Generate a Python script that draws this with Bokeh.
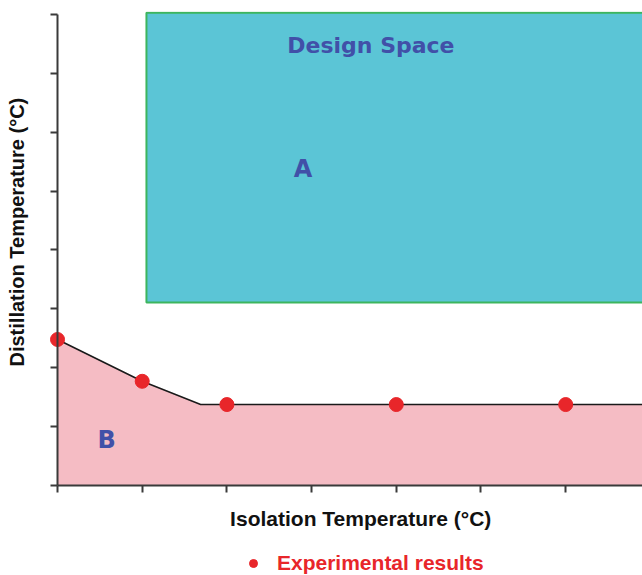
from bokeh.embed import file_html
from bokeh.models import FixedTicker, Label, Legend, LegendItem, Range1d, Title
from bokeh.plotting import figure
from bokeh.resources import INLINE

# Boundary of the failure region B (tick units on both axes)
boundary_x = [0.0, 1.0, 1.69, 6.91]
boundary_y = [2.48, 1.77, 1.375, 1.375]

# Experimental results
exp_x = [0, 1, 2, 4, 6]
exp_y = [2.48, 1.77, 1.375, 1.375, 1.375]

# Design space rectangle A
ds_left, ds_right = 1.05, 7.2
ds_bottom, ds_top = 3.11, 8.03

x_ticks = [0, 1, 2, 3, 4, 5, 6]
y_ticks = [0, 1, 2, 3, 4, 5, 6, 7, 8]

x_title = "Isolation Temperature (°C)"
y_title = "Distillation Temperature (°C)"
legend_text = "Experimental results"

LABEL_FONT = "Liberation Sans"
REGION_FONT = "DejaVu Sans"
BLUE_TXT = "#4150A8"
RED = "#E8262A"

# The frame reaches the bottom edge so the x title and the legend can sit
# below the x axis, which is pinned at y = 0.
p = figure(
    width=642,
    frame_width=612, frame_height=564,
    min_border_left=30, min_border_right=0,
    min_border_top=11, min_border_bottom=0,
    x_range=Range1d(-0.319, 6.907), y_range=Range1d(-1.528, 8.05),
    x_axis_location="above",
    output_backend="svg", toolbar_location=None,
)
p.background_fill_color = "white"
p.border_fill_color = "white"
p.outline_line_color = None
p.grid.visible = False

# Region B: area under the boundary curve
p.varea(x=boundary_x, y1=[0] * len(boundary_x), y2=boundary_y,
        fill_color="#F5BCC4")

# Region A: design space
p.quad(left=[ds_left], right=[ds_right], bottom=[ds_bottom], top=[ds_top],
       fill_color="#5BC5D6", line_color="#3DB55E", line_width=2)

p.line(boundary_x, boundary_y, line_color="#1a1a1a", line_width=1.6)
pts = p.scatter(exp_x, exp_y, size=14, marker="circle",
                fill_color=RED, line_color=RED)

# Axes: tick marks only, no numbers
for ax, ticks in ((p.xaxis, x_ticks), (p.yaxis, y_ticks)):
    ax.ticker = FixedTicker(ticks=ticks)
    ax.major_label_overrides = {t: "" for t in ticks}
    ax.major_label_text_font_size = "1px"
    ax.major_label_standoff = 0
    ax.minor_tick_line_color = None
    ax.major_tick_line_color = "#3a3a3a"
    ax.major_tick_line_width = 2
    ax.axis_line_color = "#3a3a3a"
    ax.axis_line_width = 2
p.yaxis.major_tick_in = 0
p.yaxis.major_tick_out = 7
# x axis lives in the top panel; its "in" ticks point down
p.xaxis.major_tick_in = 7
p.xaxis.major_tick_out = 0
p.xaxis.bounds = (0, 6.907)
p.yaxis.bounds = (0, 8)
p.xaxis.fixed_location = 0
p.yaxis.fixed_location = 0

# Region names inside the plot
for txt, x, y, size in (("Design Space", 3.7, 7.48, "22px"),
                        ("A", 2.9, 5.38, "24px"),
                        ("B", 0.58, 0.78, "24px")):
    p.add_layout(Label(x=x, y=y, text=txt, text_font=REGION_FONT,
                       text_font_size=size, text_font_style="bold",
                       text_color=BLUE_TXT, text_align="center",
                       text_baseline="middle"))

# Axis titles
p.add_layout(Label(x=3.58, y=-0.56, text=x_title, text_font=LABEL_FONT,
                   text_font_size="21px", text_font_style="bold",
                   text_color="#111111", text_align="center",
                   text_baseline="middle"))
p.add_layout(Title(text=y_title, align="left", offset=209,
                   text_font=LABEL_FONT, text_font_size="20px",
                   text_font_style="bold", text_color="#111111",
                   standoff=6), "left")

legend = Legend(items=[LegendItem(label=legend_text, renderers=[pts])],
                location=(213, 0), orientation="horizontal",
                border_line_color=None, background_fill_alpha=0,
                padding=0, margin=0, glyph_width=20, glyph_height=20,
                label_height=20, label_standoff=14,
                label_text_font=LABEL_FONT, label_text_font_size="21px",
                label_text_font_style="bold", label_text_color=RED)
p.add_layout(legend, "center")

open("out.html", "w").write(file_html(p, INLINE))
